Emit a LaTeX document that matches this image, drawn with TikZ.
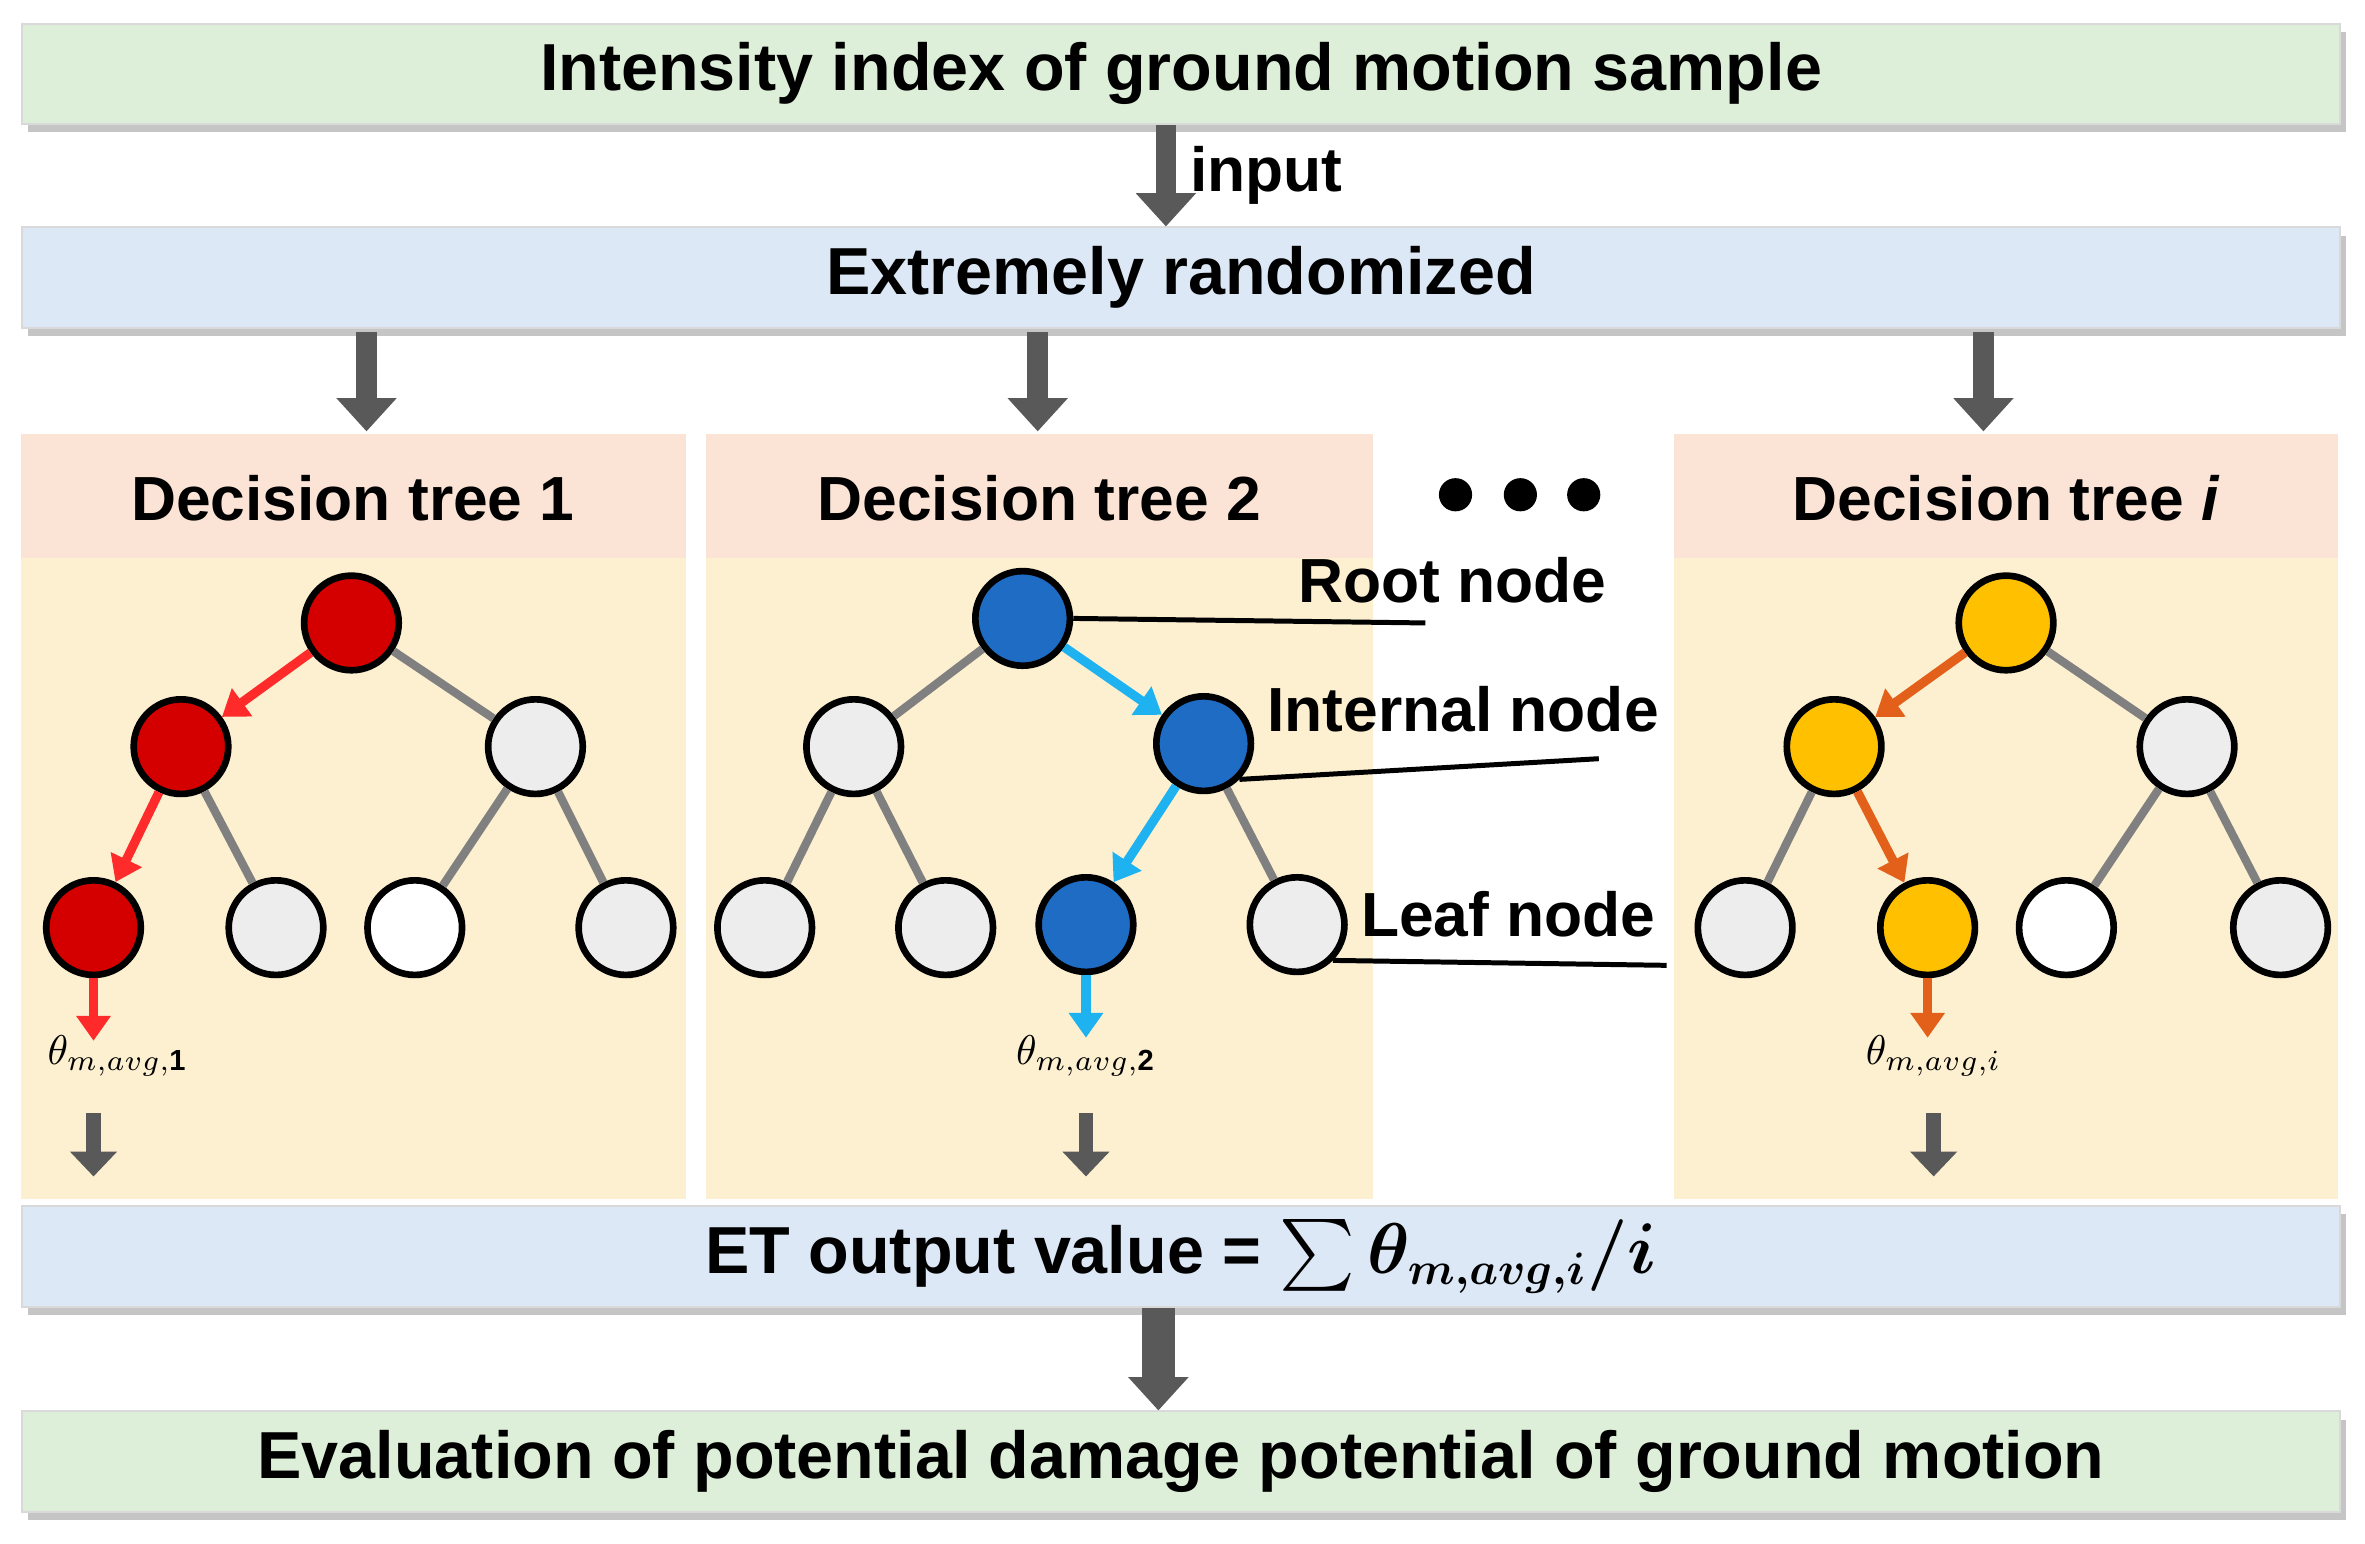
\documentclass[tikz,border=0pt]{standalone}
\usepackage{amsmath,bm}
\usepackage{fontspec}
\setmainfont{Liberation Sans}
\usetikzlibrary{arrows.meta,shadows}
\definecolor{bargreen}{HTML}{DDEFD8}
\definecolor{barblue}{HTML}{DCE8F5}
\definecolor{headpink}{HTML}{FBE3D6}
\definecolor{bodyyellow}{HTML}{FDF0D0}
\definecolor{nred}{HTML}{D40000}
\definecolor{nblue}{HTML}{1F6CC4}
\definecolor{nyellow}{HTML}{FFC000}
\definecolor{ared}{HTML}{FF2A2A}
\definecolor{ablue}{HTML}{1EB2F0}
\definecolor{aorange}{HTML}{E2601A}
\definecolor{ngray}{HTML}{EDEDED}
\tikzset{
  bar/.style={draw=black!15, minimum height=0.85cm, minimum width=19.6cm, font=\bfseries\fontsize{16}{19}\selectfont, drop shadow={shadow xshift=0.5mm, shadow yshift=-0.7mm, fill=black!45}},
  tnode/.style={draw, circle, line width=1.6pt, minimum size=0.8cm, fill=ngray},
  big/.style={-{Triangle[length=8pt,width=14pt]}, line width=5pt, draw=black!65},
  small/.style={-{Triangle[length=6pt,width=11pt]}, line width=3.5pt, draw=black!65},
  branch/.style={line width=2pt, draw=black!50},
  pick/.style={-{Triangle[length=6pt,width=8pt]}, line width=2.2pt},
  head/.style={font=\bfseries\fontsize{15}{18}\selectfont},
  lbl/.style={font=\bfseries\fontsize{15}{18}\selectfont}
}
\begin{document}
\begin{tikzpicture}[x=0.012755cm, y=-0.012755cm]
        \useasboundingbox (0,0) rectangle (1568,1023);

        % panels
        \foreach \l/\r in {14/455, 468/910, 1110/1550} {
          \fill[headpink] (\l,288) rectangle (\r,370);
          \fill[bodyyellow] (\l,370) rectangle (\r,795);
        }
        \node[head] (h1) at (234,330) {Decision tree 1};
        \node[head] (h2) at (689,330) {Decision tree 2};
        \node[head] (h3) at (1330,330) {Decision tree \textit{i}};
        \foreach \x in {965,1008,1050} \fill (\x,328) circle (11);

        % bars
        \node[bar, fill=bargreen] (top) at (783,49) {Intensity index of ground motion sample};
        \node[bar, fill=barblue] (er) at (783,184) {Extremely randomized};
        \node[bar, fill=barblue] (out) at (783,833) {ET output value = $\sum\bm{\theta_{m,avg,i}/i}$};
        \node[bar, fill=bargreen] (eval) at (783,969) {Evaluation of potential damage potential of ground motion};

        \draw[big] (top.south -| 773,0) -- (er.north -| 773,0) node[midway, right, lbl] {input};
        \foreach \x in {243,688,1315} \draw[big] (\x,220) coordinate (s\x) -- (\x,286);
        \draw[big, line width=8pt] (out.south -| 768,0) -- (eval.north -| 768,0);

        % tree 1
        \node[tnode, fill=nred] (a1) at (233,413) {};
        \node[tnode, fill=nred] (b1) at (120,495) {};
        \node[tnode] (c1) at (355,495) {};
        \node[tnode, fill=nred] (d1) at (62,615) {};
        \node[tnode] (e1) at (183,615) {};
        \node[tnode, fill=white] (f1) at (275,615) {};
        \node[tnode] (g1) at (415,615) {};
        \path[branch] (a1) edge (c1) (b1) edge (e1) (c1) edge (f1) (c1) edge (g1);
        \draw[pick, ared] (a1) -- (b1);
        \draw[pick, ared] (b1) -- (d1);
        \node (t1) at (78,700) {$\theta_{m,avg,\mathbf{1}}$};
        \draw[pick, ared] (d1) -- (62,690);

        % tree 2
        \node[tnode, fill=nblue] (a2) at (678,410) {};
        \node[tnode] (b2) at (566,495) {};
        \node[tnode, fill=nblue] (c2) at (798,493) {};
        \node[tnode] (d2) at (507,615) {};
        \node[tnode] (e2) at (627,615) {};
        \node[tnode, fill=nblue] (f2) at (720,613) {};
        \node[tnode] (g2) at (860,613) {};
        \path[branch] (a2) edge (b2) (b2) edge (d2) (b2) edge (e2) (c2) edge (g2);
        \draw[pick, ablue] (a2) -- (c2);
        \draw[pick, ablue] (c2) -- (f2);
        \node (t2) at (720,700) {$\theta_{m,avg,\mathbf{2}}$};
        \draw[pick, ablue] (f2) -- (720,688);

        % tree i
        \node[tnode, fill=nyellow] (a3) at (1330,413) {};
        \node[tnode, fill=nyellow] (b3) at (1216,495) {};
        \node[tnode] (c3) at (1450,495) {};
        \node[tnode] (d3) at (1157,615) {};
        \node[tnode, fill=nyellow] (e3) at (1278,615) {};
        \node[tnode, fill=white] (f3) at (1370,615) {};
        \node[tnode] (g3) at (1512,615) {};
        \path[branch] (a3) edge (c3) (b3) edge (d3) (c3) edge (f3) (c3) edge (g3);
        \draw[pick, aorange] (a3) -- (b3);
        \draw[pick, aorange] (b3) -- (e3);
        \node (t3) at (1282,700) {$\theta_{m,avg,i}$};
        \draw[pick, aorange] (e3) -- (1278,688);

        \foreach \x in {62,720,1282} \draw[small] (\x,738) -- (\x,780);

        % annotations
        \node[lbl] (root) at (963,385) {Root node};
        \node[lbl] (int) at (970,470) {Internal node};
        \node[lbl] (leaf) at (1000,606) {Leaf node};
        \coordinate (rootend) at (945,413);
        \coordinate (intend) at (1060,503);
        \coordinate (leafend) at (1105,640);
        \draw[line width=1.2pt] (a2.east) -- (rootend);
        \draw[line width=1.2pt] (c2.south east) -- (intend);
        \draw[line width=1.2pt] (g2.south east) -- (leafend);
      \end{tikzpicture}
\end{document}
